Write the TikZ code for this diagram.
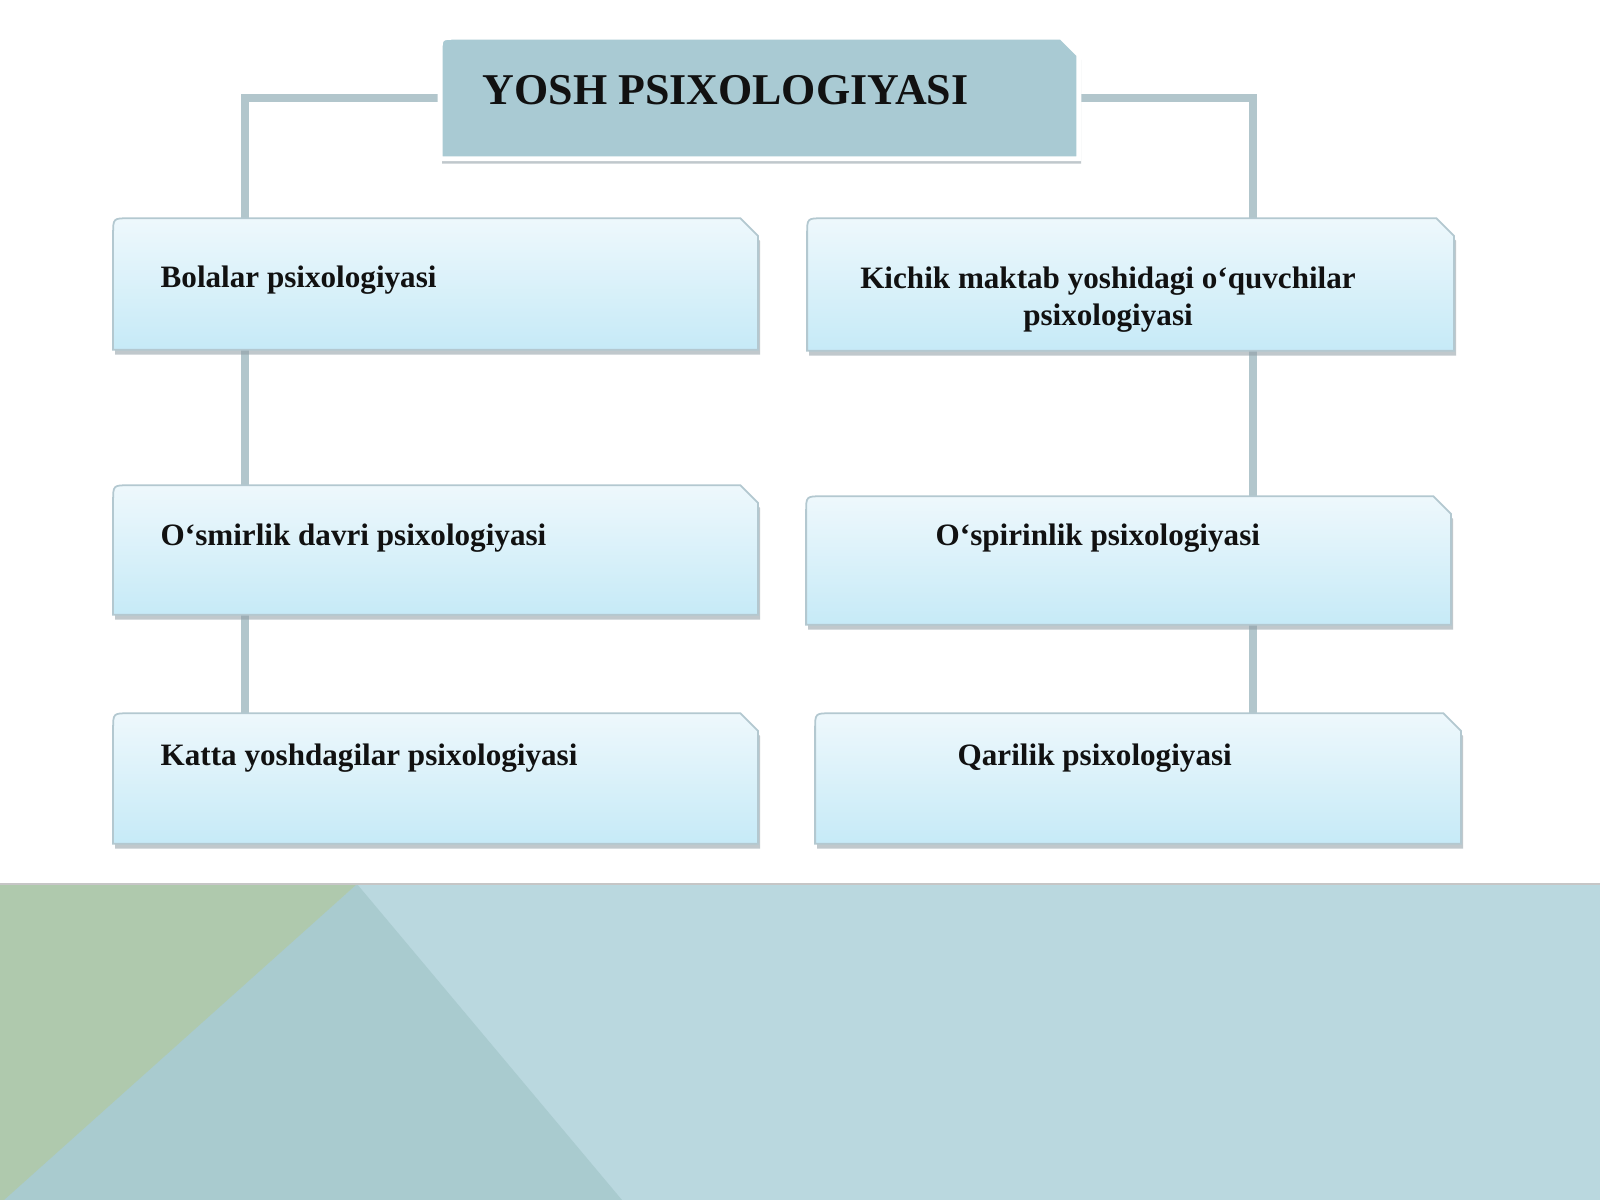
\documentclass[tikz,border=0pt]{standalone}
\usepackage{fontspec}
\setmainfont{Liberation Serif}
\usetikzlibrary{shadows}

\definecolor{boxtop}{HTML}{EEF8FC}
\definecolor{boxbottom}{HTML}{C6EAF7}
\definecolor{boxline}{HTML}{B3C8D0}
\definecolor{titlefill}{HTML}{A9CAD3}
\definecolor{linkgray}{HTML}{B2C6CC}
\definecolor{shadowgray}{HTML}{8E9CA3}
\definecolor{textdark}{HTML}{111111}
\definecolor{bandblue}{HTML}{BAD8DF}
\definecolor{bandgreen}{HTML}{AFC9AD}
\definecolor{bandteal}{HTML}{A9CBCF}

\pgfdeclarelayer{bg}
\pgfdeclarelayer{links}
\pgfsetlayers{bg,links,main}

\tikzset{
    boxarea/.style={rectangle, inner sep=0pt},
    boxshadow/.style={drop shadow={shadow xshift=0.6pt, shadow yshift=-1.4pt, opacity=0.55, fill=shadowgray}},
    agebox/.style={draw=boxline, line width=0.5pt, top color=boxtop, bottom color=boxbottom, boxshadow},
    titlebox/.style={fill=titlefill, draw=white, line width=1.4pt, boxshadow},
    agetext/.style={font=\fontsize{8.85}{10.5}\selectfont\bfseries, text=textdark, inner sep=0pt},
    link/.style={draw=linkgray, line width=2.3pt},
}

% box outline: rounded top left, cut top right
\newcommand{\boxoutline}[1]{(#1.south west) -- ([yshift=-4.5pt]#1.north west)
    .. controls (#1.north west) .. ([xshift=4.5pt]#1.north west)
    -- ([xshift=-5pt]#1.north east) -- ([yshift=-5pt]#1.north east)
    -- (#1.south east) -- cycle}

\begin{document}
\begin{tikzpicture}[x=0.01cm, y=-0.01cm]
            \begin{pgfonlayer}{bg}
                \useasboundingbox[fill=white] (0,0) rectangle (1600,1200);
                % bottom band
                \fill[bandblue] (0,884) rectangle (1600,1200);
                \fill[bandteal] (357,884) -- (622,1200) -- (0,1200) -- cycle;
                \fill[bandgreen] (0,884) -- (357,884) -- (4,1200) -- (0,1200) -- cycle;
                \draw[gray!45, line width=0.6pt] (0,884) -- (1600,884);
            \end{pgfonlayer}

            \coordinate (lcol) at (245,98);
            \coordinate (rcol) at (1253,98);

            % boxes
            \node[boxarea, minimum width=6.37cm, minimum height=1.20cm] (yosh) at (759.5,98) {};
            \node[boxarea, minimum width=6.43cm, minimum height=1.30cm] (bolalar) at (435.5,284) {};
            \node[boxarea, minimum width=6.45cm, minimum height=1.31cm] (kichik) at (1130.5,284.5) {};
            \node[boxarea, minimum width=6.43cm, minimum height=1.28cm] (osmirlik) at (435.5,550) {};
            \node[boxarea, minimum width=6.43cm, minimum height=1.27cm] (ospirin) at (1128.5,560.5) {};
            \node[boxarea, minimum width=6.43cm, minimum height=1.29cm] (katta) at (435.5,778.5) {};
            \node[boxarea, minimum width=6.44cm, minimum height=1.29cm] (qarilik) at (1138,778.5) {};

            \path[titlebox] \boxoutline{yosh};
            \foreach \b in {bolalar,kichik,osmirlik,ospirin,katta,qarilik}
                \path[agebox] \boxoutline{\b};

            % connectors
            \begin{pgfonlayer}{links}
                \draw[link] (yosh.west) -| (lcol |- bolalar.north);
                \draw[link] (yosh.east) -| (rcol |- kichik.north);
                \draw[link] (lcol |- bolalar.south) -- (lcol |- osmirlik.north);
                \draw[link] (lcol |- osmirlik.south) -- (lcol |- katta.north);
                \draw[link] (rcol |- kichik.south) -- (rcol |- ospirin.north);
                \draw[link] (rcol |- ospirin.south) -- (rcol |- qarilik.north);
            \end{pgfonlayer}

            % labels
            \node[anchor=base west, inner sep=0pt, text=textdark, font=\fontsize{12.5}{15}\selectfont\bfseries] (yoshtext) at (482,104) {YOSH PSIXOLOGIYASI};
            \node[agetext, anchor=base west] (bolalartext) at (160,287) {Bolalar psixologiyasi};
            \node[agetext, anchor=north, align=center] (kichiktext) at (1108,266) {Kichik maktab yoshidagi o‘quvchilar\\psixologiyasi};
            \node[agetext, anchor=base west] (osmirliktext) at (160,545) {O‘smirlik davri psixologiyasi};
            \node[agetext, anchor=base west] (ospirintext) at (935,545) {O‘spirinlik psixologiyasi};
            \node[agetext, anchor=base west] (kattatext) at (160,765) {Katta yoshdagilar psixologiyasi};
            \node[agetext, anchor=base west] (qariliktext) at (957,765) {Qarilik psixologiyasi};
\end{tikzpicture}
\end{document}
